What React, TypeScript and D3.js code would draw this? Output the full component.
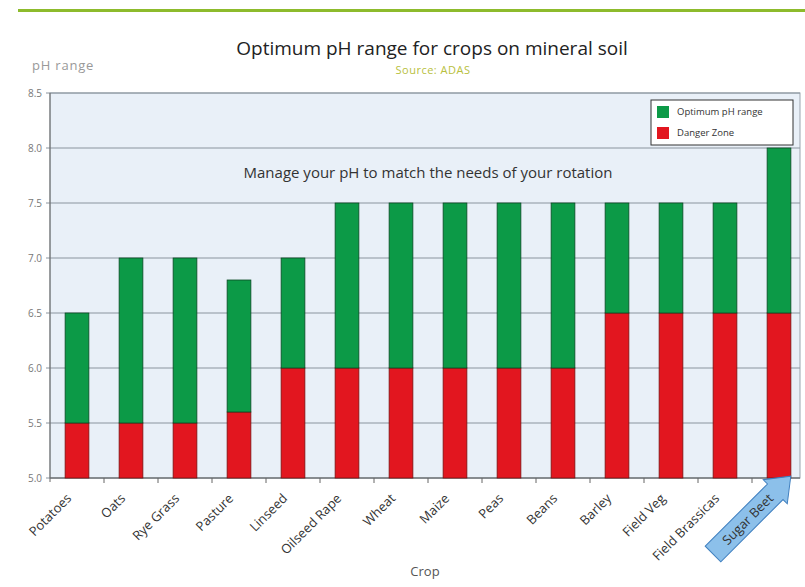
import React from "react";
import * as d3 from "d3";

const crops = ["Potatoes","Oats","Rye Grass","Pasture","Linseed","Oilseed Rape","Wheat","Maize","Peas","Beans","Barley","Field Veg","Field Brassicas","Sugar Beet"];
const dangerTop = [5.5,5.5,5.5,5.6,6.0,6.0,6.0,6.0,6.0,6.0,6.5,6.5,6.5,6.5];
const optimumTop = [6.5,7.0,7.0,6.8,7.0,7.5,7.5,7.5,7.5,7.5,7.5,7.5,7.5,8.0];
const yTicks = [5.0,5.5,6.0,6.5,7.0,7.5,8.0,8.5];

const W = 805, H = 587;
const left = 50, right = 806, top = 93, bottom = 478;
const GREEN = "#0c9a47", RED = "#e2161f";
const FONT = "'Open Sans', 'Noto Sans', sans-serif";

export default function App() {
  const x = d3.scaleBand<string>().domain(crops).range([left, right]).paddingInner(0.56).paddingOuter(0.28);
  const band = d3.scaleBand<string>().domain(crops).range([left, right]);
  const y = d3.scaleLinear().domain([5, 8.5]).range([bottom, top]);
  return (
    <svg width={W} height={H} style={{ position: "absolute", left: 0, top: 0, background: "#fff" }} fontFamily={FONT}>
      <rect x={18} y={9} width={W - 18} height={3} fill="#8dbb2c" />
      <text x={432} y={55} textAnchor="middle" fontSize={19} fill="#222">Optimum pH range for crops on mineral soil</text>
      <text x={433} y={74} textAnchor="middle" fontSize={11} letterSpacing={0.5} fill="#b8c040">Source: ADAS</text>
      <text x={32} y={70} fontSize={13} letterSpacing={0.8} fill="#999">pH range</text>
      <rect x={left} y={top} width={800 - left} height={bottom - top} fill="#e9f0f8" stroke="#9aa3ad" />
      {yTicks.map((t) => (
        <g key={t}>
          <line x1={left - 4} x2={800} y1={y(t)} y2={y(t)} stroke="#8a949e" strokeWidth={1} />
          <text x={left - 8} y={y(t)} dy="0.35em" textAnchor="end" fontSize={10} fill="#777">{t.toFixed(1)}</text>
        </g>
      ))}
      <line x1={left} x2={left} y1={top} y2={bottom + 4} stroke="#666" />
      <line x1={left} x2={800} y1={bottom} y2={bottom} stroke="#666" />
      {crops.map((c) => (
        <line key={c} x1={(band(c) as number) + band.bandwidth()} x2={(band(c) as number) + band.bandwidth()} y1={bottom} y2={bottom + 5} stroke="#666" />
      ))}
      <text x={428} y={173} dy="0.35em" textAnchor="middle" fontSize={15} fill="#333">Manage your pH to match the needs of your rotation</text>
      {crops.map((c, i) => (
        <g key={c}>
          <rect x={x(c)} y={y(dangerTop[i])} width={x.bandwidth()} height={y(5) - y(dangerTop[i])} fill={RED} stroke="#7a1010" strokeWidth={0.8} />
          <rect x={x(c)} y={y(optimumTop[i])} width={x.bandwidth()} height={y(dangerTop[i]) - y(optimumTop[i])} fill={GREEN} stroke="#0a4a24" strokeWidth={0.8} />
        </g>
      ))}
      <g>
        <rect x={651} y={100} width={142} height={45} fill="#fff" stroke="#333" />
        <rect x={657} y={106} width={12} height={12} fill={GREEN} />
        <text x={677} y={112} dy="0.35em" fontSize={9.5} fill="#333">Optimum pH range</text>
        <rect x={657} y={127} width={12} height={12} fill={RED} />
        <text x={677} y={133} dy="0.35em" fontSize={9.5} fill="#333">Danger Zone</text>
      </g>
      {crops.map((c, i) => {
        const cx = (x(c) as number) + x.bandwidth() / 2;
        const isLast = i === crops.length - 1;
        return (
          <g key={c} transform={`translate(${cx - 8},${496}) rotate(-45)`}>
            {isLast && (
              <polygon points="-82,-11 6,-11 6,-17 28,0 6,17 6,11 -82,11" fill="#8cc0ea" stroke="#3f7fbf" strokeWidth={1} />
            )}
            <text x={0} y={0} dy="0.35em" textAnchor="end" fontSize={13} fill="#333">{c}</text>
          </g>
        );
      })}
      <text x={425} y={576} textAnchor="middle" fontSize={13} fill="#555">Crop</text>
    </svg>
  );
}
